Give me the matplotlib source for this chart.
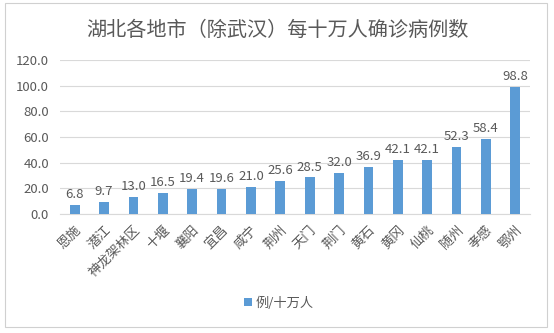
import matplotlib
matplotlib.use("Agg")
import matplotlib.pyplot as plt
from matplotlib.patches import Rectangle

plt.rcParams['font.family'] = ['Noto Sans CJK SC', 'DejaVu Sans']

cities = ["恩施", "潜江", "神龙架林区", "十堰", "襄阳", "宜昌", "咸宁", "荆州", "天门",
          "荆门", "黄石", "黄冈", "仙桃", "随州", "孝感", "鄂州"]
rates = [6.8, 9.7, 13.0, 16.5, 19.4, 19.6, 21.0, 25.6, 28.5, 32.0, 36.9, 42.1, 42.1,
         52.3, 58.4, 98.8]
yticks = [0, 20, 40, 60, 80, 100, 120]

TEXT = "#595959"
BAR = "#5B9BD5"
GRID = "#D9D9D9"

fig = plt.figure(figsize=(5.54, 3.33), dpi=100)
fig.patches.append(Rectangle((5 / 554, 6 / 333), 542 / 554, 324 / 333,
                             transform=fig.transFigure, fill=False,
                             edgecolor="#D0D0D0", linewidth=0.8))

ax = fig.add_axes([60 / 554, 1 - 214 / 333, 470 / 554, 154 / 333])
x = range(len(cities))
bars = ax.bar(x, rates, width=0.33, color=BAR, label="例/十万人", zorder=3)
for xi, v in zip(x, rates):
    ax.text(xi, v + 3, f"{v:.1f}", ha="center", va="bottom", fontsize=9.5, color=TEXT)

ax.set_ylim(0, 120)
ax.set_xlim(-0.5, len(cities) - 0.5)
ax.set_yticks(yticks)
ax.set_yticklabels([f"{t:.1f}" for t in yticks], fontsize=9.5, color=TEXT)
ax.set_xticks(list(x))
ax.set_xticklabels(cities, rotation=45, ha="right", rotation_mode="anchor",
                   fontsize=9.5, color=TEXT)
ax.tick_params(axis="x", length=0, pad=7)
ax.tick_params(axis="y", length=0, pad=8)
ax.grid(axis="y", color=GRID, linewidth=0.8, zorder=0)
for s in ["top", "right", "left"]:
    ax.spines[s].set_visible(False)
ax.spines["bottom"].set_color(GRID)

fig.text(0.5, 1 - 30 / 333, "湖北各地市（除武汉）每十万人确诊病例数", ha="center", va="center",
         fontsize=14.5, color=TEXT)

fig.legend(handles=[bars], labels=["例/十万人"], loc="center",
           bbox_to_anchor=(279 / 554, 1 - 303 / 333), frameon=False, fontsize=9.5,
           handlelength=0.6, handleheight=0.6, handletextpad=0.3, labelcolor=TEXT)

fig.savefig("out.png", dpi=100)
